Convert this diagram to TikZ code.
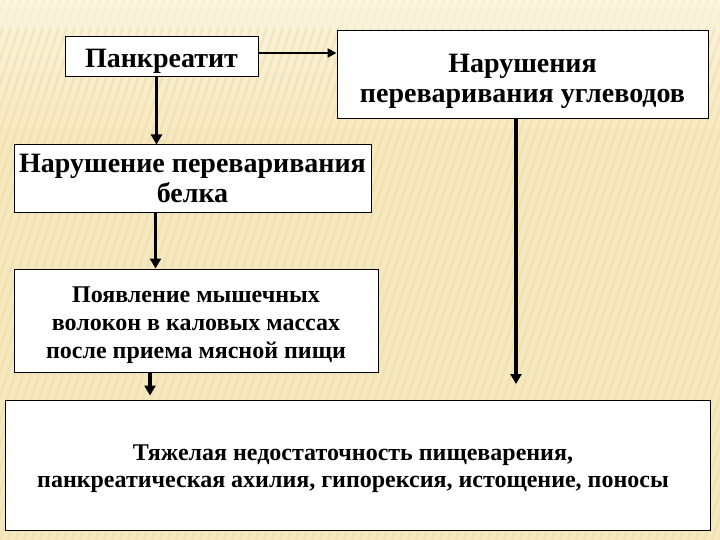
\documentclass[tikz,border=0pt]{standalone}
\usepackage{fontspec}
\setmainfont{Liberation Serif}
\usetikzlibrary{arrows.meta}
\definecolor{bgbase}{RGB}{246,232,190}
\definecolor{bgtop}{RGB}{251,244,222}
\definecolor{stripe}{RGB}{238,220,168}
\tikzset{
  box/.style={draw=black, line width=1pt, fill=white, inner sep=0pt},
  txt/.style={anchor=base, inner sep=0pt, font=\bfseries},
  big/.style={txt, font=\bfseries\fontsize{28}{29.5}\selectfont},
  mid/.style={txt, font=\bfseries\fontsize{24}{28}\selectfont},
  flow/.style={line width=3.6pt, -{Triangle[length=10pt,width=11pt]}},
  hflow/.style={line width=2.8pt, -{Triangle[length=9pt,width=9pt]}}
}
\newcommand{\lines}[1]{\begin{tabular}[t]{@{}c@{}}#1\end{tabular}}
\begin{document}
\begin{tikzpicture}[x=1pt,y=-1pt]
\useasboundingbox (0,0) rectangle (720,540);
% background
\fill[bgbase] (0,0) rectangle (720,540);
\shade[top color=bgtop, bottom color=bgbase] (0,0) rectangle (720,140);
\begin{scope}
\clip (0,0) rectangle (720,540);
\foreach \i in {-600,-592,...,720} {
  \draw[stripe, line width=2pt, opacity=0.55] (\i,540) -- (\i+180,0);
}
\end{scope}
\fill[bgtop, opacity=0.6] (0,0) rectangle (720,28);

% boxes
\node[box, minimum width=193, minimum height=40] (pank) at (161.5,57) {};
\node[box, minimum width=371, minimum height=88] (carb) at (522.5,75) {};
\node[box, minimum width=357, minimum height=68] (belka) at (192.5,179) {};
\node[box, minimum width=364, minimum height=103] (poyav) at (196,320.5) {};
\node[box, minimum width=705, minimum height=130] (res) at (357.5,465) {};

% texts (anchored at the baseline of the first line)
\node[big] (pankt) at (161.5,68) {Панкреатит};
\node[big] (carbt) at (522.5,73) {\lines{Нарушения\\переваривания углеводов}};
\node[big] (belkat) at (192.5,173) {\lines{Нарушение переваривания\\белка}};
\node[mid] (poyavt) at (196,302) {\lines{Появление мышечных\\волокон в каловых массах\\после приема мясной пищи}};
\node[txt, font=\bfseries\fontsize{24}{27}\selectfont] (rest) at (353,460) {\lines{Тяжелая недостаточность пищеварения,\\панкреатическая ахилия, гипорексия, истощение, поносы}};

\coordinate (carbend) at (516,384);

% connectors
\draw[hflow] ([yshift=4pt]pank.east) -- ([yshift=4pt]pank.east -| carb.west);
\draw[flow] ([xshift=-5pt]pank.south) -- ([xshift=-5pt]pank.south |- belka.north);
\draw[flow] ([xshift=-37pt]belka.south) -- ([xshift=-37pt]belka.south |- poyav.north);
\draw[flow] ([xshift=-46pt]poyav.south) -- ([xshift=-46pt,yshift=4pt]poyav.south |- res.north);
\draw[flow] (carb.south -| carbend) -- (carbend);
\end{tikzpicture}
\end{document}
